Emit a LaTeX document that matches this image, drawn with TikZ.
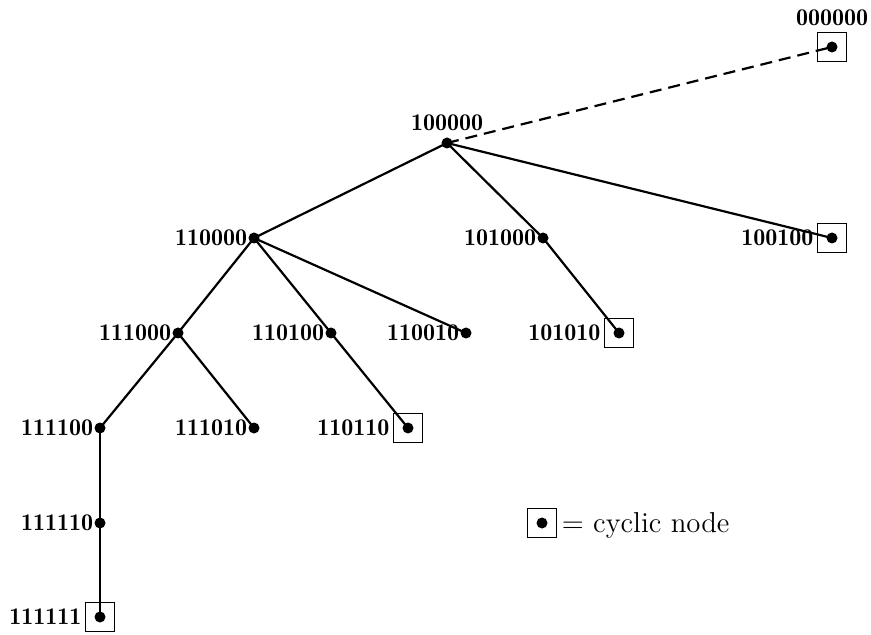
\documentclass[tikz,border=0pt]{standalone}
\begin{document}
\begin{tikzpicture}[x=0.5pt,y=-0.5pt,
  dot/.style={circle,fill=black,inner sep=0pt,minimum size=5.5pt},
  cycbox/.style={draw,line width=0.8pt,inner sep=0pt,minimum size=14.5pt},
  lbl/.style={inner sep=0pt,font=\fontsize{12}{14}\fontseries{b}\selectfont},
  edge/.style={line width=1.1pt},
  back/.style={line width=1.1pt,dash pattern=on 6pt off 3.5pt}]
\useasboundingbox (0,0) rectangle (871,635);

% vertices of the tree
\node[dot] (a000000) at (832,47) {};
\node[dot] (a100000) at (447,143) {};
\node[dot] (a110000) at (254,238) {};
\node[dot] (a101000) at (543,238) {};
\node[dot] (a100100) at (832,238) {};
\node[dot] (a111000) at (178,333) {};
\node[dot] (a110100) at (331,333) {};
\node[dot] (a110010) at (466,333) {};
\node[dot] (a101010) at (619,333) {};
\node[dot] (a111100) at (100,428) {};
\node[dot] (a111010) at (254,428) {};
\node[dot] (a110110) at (408,428) {};
\node[dot] (a111110) at (100,523) {};
\node[dot] (a111111) at (100,617) {};

% boxes marking the cyclic vertices
\node[cycbox] (b000000) at (a000000) {};
\node[cycbox] (b100100) at (a100100) {};
\node[cycbox] (b101010) at (a101010) {};
\node[cycbox] (b110110) at (a110110) {};
\node[cycbox] (b111111) at (a111111) {};

% edges
\draw[back] (a100000.center) -- (a000000.center);
\draw[edge] (a100000.center) -- (a110000.center);
\draw[edge] (a100000.center) -- (a101000.center);
\draw[edge] (a100000.center) -- (a100100.center);
\draw[edge] (a110000.center) -- (a111000.center);
\draw[edge] (a110000.center) -- (a110100.center);
\draw[edge] (a110000.center) -- (a110010.center);
\draw[edge] (a101000.center) -- (a101010.center);
\draw[edge] (a111000.center) -- (a111100.center);
\draw[edge] (a111000.center) -- (a111010.center);
\draw[edge] (a110100.center) -- (a110110.center);
\draw[edge] (a111100.center) -- (a111110.center);
\draw[edge] (a111110.center) -- (a111111.center);

% labels
\node[lbl,anchor=south] (l000000) at ([yshift=3pt]b000000.north) {000000};
\node[lbl,anchor=south] (l100000) at ([yshift=3pt]a100000.north) {100000};
\node[lbl,anchor=east] (l110000) at ([xshift=-0.3pt]a110000.west) {110000};
\node[lbl,anchor=east] (l101000) at ([xshift=-0.3pt]a101000.west) {101000};
\node[lbl,anchor=east] (l100100) at ([xshift=-1.5pt]b100100.west) {100100};
\node[lbl,anchor=east] (l111000) at ([xshift=-0.3pt]a111000.west) {111000};
\node[lbl,anchor=east] (l110100) at ([xshift=-0.3pt]a110100.west) {110100};
\node[lbl,anchor=east] (l110010) at ([xshift=-0.3pt]a110010.west) {110010};
\node[lbl,anchor=east] (l101010) at ([xshift=-1.5pt]b101010.west) {101010};
\node[lbl,anchor=east] (l111100) at ([xshift=-0.3pt]a111100.west) {111100};
\node[lbl,anchor=east] (l111010) at ([xshift=-0.3pt]a111010.west) {111010};
\node[lbl,anchor=east] (l110110) at ([xshift=-1.5pt]b110110.west) {110110};
\node[lbl,anchor=east] (l111110) at ([xshift=-0.3pt]a111110.west) {111110};
\node[lbl,anchor=east] (l111111) at ([xshift=-1.5pt]b111111.west) {111111};

% legend
\node[dot] (kdot) at (542,523) {};
\node[cycbox] (kbox) at (kdot) {};
\node[anchor=base west,inner sep=0pt,font=\fontsize{14.4}{17}\selectfont]
  (ktext) at (561.5,532) {$=$ cyclic node};
\end{tikzpicture}
\end{document}
